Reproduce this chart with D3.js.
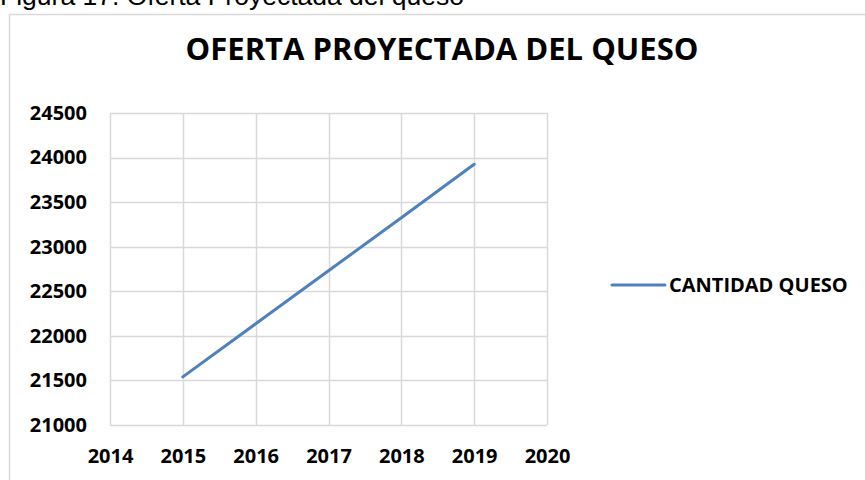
<!DOCTYPE html>
<html>
<head>
<meta charset="utf-8">
<script src="https://cdn.jsdelivr.net/npm/d3@7"></script>
<style>
  body { margin: 0; background: #fff; }
  svg { display: block; }
</style>
</head>
<body>
<div id="chart"></div>
<script>
// data
const years = [2015, 2016, 2017, 2018, 2019];
const cantidad = [21540, 22135, 22730, 23325, 23925];
const xTicks = [2014, 2015, 2016, 2017, 2018, 2019, 2020];
const yTicks = [21000, 21500, 22000, 22500, 23000, 23500, 24000, 24500];
const seriesName = "CANTIDAD QUESO";

const W = 865, H = 480;
const margin = {top: 113, right: 318, bottom: 55, left: 110},
    width = W - margin.left - margin.right,
    height = H - margin.top - margin.bottom;

const svg = d3.select("#chart")
  .append("svg")
    .attr("width", W)
    .attr("height", H);

// caption above the chart (cut at top in the original)
svg.append("text")
  .attr("x", 0)
  .attr("y", 5)
  .attr("font-family", "Liberation Sans, Arial, sans-serif")
  .attr("font-size", 26.5)
  .attr("fill", "#000")
  .text("Figura 17. Oferta Proyectada del queso");

// outer chart border
svg.append("rect")
  .attr("x", 9.5).attr("y", 14.5)
  .attr("width", W).attr("height", H)
  .attr("fill", "none")
  .attr("stroke", "#d9d9d9")
  .attr("stroke-width", 1.5);

svg.append("text")
  .attr("x", 442)
  .attr("y", 60)
  .attr("text-anchor", "middle")
  .attr("font-family", "Open Sans, sans-serif")
  .attr("font-weight", "bold")
  .attr("font-size", 31)
  .attr("fill", "#000")
  .text("OFERTA PROYECTADA DEL QUESO");

const g = svg.append("g")
  .attr("transform", "translate(" + margin.left + "," + margin.top + ")");

const x = d3.scaleLinear()
  .domain([2014, 2020])
  .range([0, width]);
const y = d3.scaleLinear()
  .domain([21000, 24500])
  .range([height, 0]);

// gridlines
g.append("g")
  .selectAll("line.h")
  .data(yTicks)
  .join("line")
    .attr("x1", 0).attr("x2", width)
    .attr("y1", d => Math.round(y(d)) + 0.5)
    .attr("y2", d => Math.round(y(d)) + 0.5)
    .attr("stroke", "#d9d9d9")
    .attr("stroke-width", 1.5);
g.append("g")
  .selectAll("line.v")
  .data(xTicks)
  .join("line")
    .attr("y1", 0).attr("y2", height)
    .attr("x1", d => Math.round(x(d)) + 0.5)
    .attr("x2", d => Math.round(x(d)) + 0.5)
    .attr("stroke", "#d9d9d9")
    .attr("stroke-width", 1.5);

// axes (labels only)
const yAxis = g.append("g")
  .call(d3.axisLeft(y).tickValues(yTicks).tickFormat(d3.format("d")).tickSize(0).tickPadding(23));
const xAxis = g.append("g")
  .attr("transform", "translate(0," + height + ")")
  .call(d3.axisBottom(x).tickValues(xTicks).tickFormat(d3.format("d")).tickSize(0).tickPadding(24));
[yAxis, xAxis].forEach(a => {
  a.select(".domain").remove();
  a.selectAll("text")
    .attr("font-family", "Open Sans, sans-serif")
    .attr("font-weight", "bold")
    .attr("font-size", 20)
    .attr("fill", "#000");
});

// series line
g.append("path")
  .datum(years.map((yr, i) => ({yr: yr, v: cantidad[i]})))
  .attr("fill", "none")
  .attr("stroke", "#4f81bd")
  .attr("stroke-width", 3)
  .attr("stroke-linecap", "round")
  .attr("d", d3.line()
      .x(d => x(d.yr))
      .y(d => y(d.v)));

// legend
const leg = svg.append("g").attr("transform", "translate(612,285)");
leg.append("line")
  .attr("x1", 0).attr("x2", 53)
  .attr("stroke", "#4f81bd")
  .attr("stroke-width", 3)
  .attr("stroke-linecap", "round");
leg.append("text")
  .attr("x", 57)
  .attr("y", 7)
  .attr("font-family", "Open Sans, sans-serif")
  .attr("font-weight", "bold")
  .attr("font-size", 20)
  .attr("fill", "#000")
  .text(seriesName);
</script>
</body>
</html>
